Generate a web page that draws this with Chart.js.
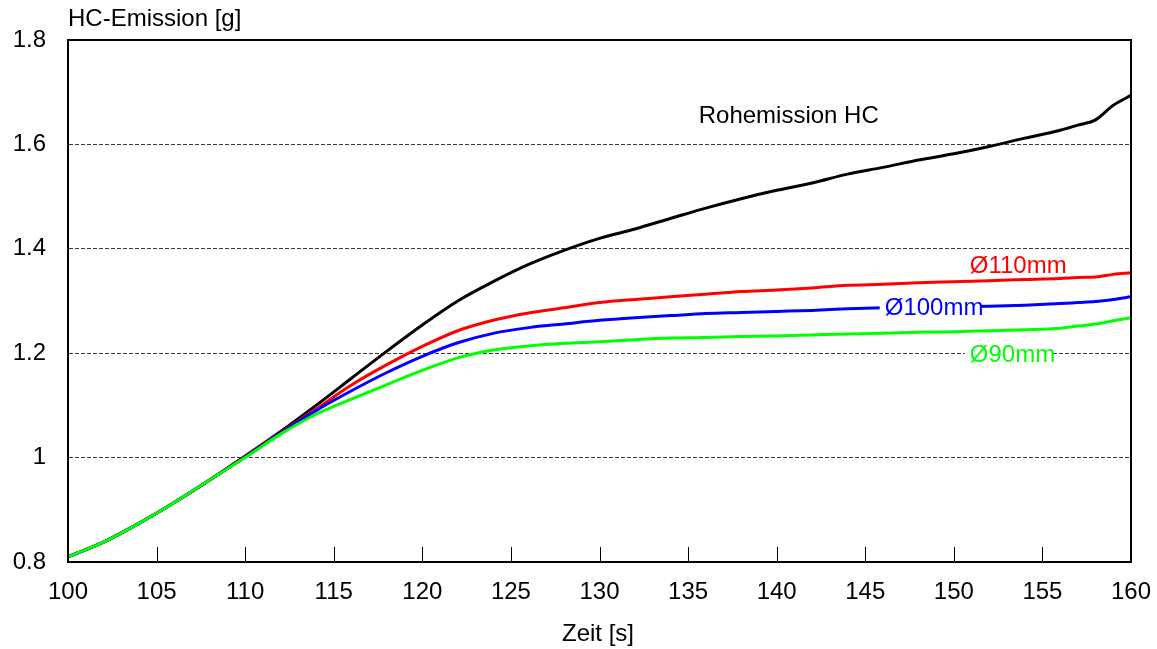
<!DOCTYPE html>
<html>
<head>
<meta charset="utf-8">
<script src="https://cdn.jsdelivr.net/npm/chart.js@4"></script>
<style>
  body { margin: 0; background: #fff; }
  #wrap { width: 1157px; height: 649px; }
</style>
</head>
<body>
<div id="wrap"><canvas id="hcChart" width="1157" height="649"></canvas></div>
<script>
// time axis [s]
const times = [100, 102, 104, 106, 108, 110, 112, 114, 116, 118, 120, 122, 124, 126, 128, 130,
  132, 134, 136, 138, 140, 142, 144, 146, 148, 150, 152, 154, 156, 157, 158, 159, 160];

// cumulated HC emission [g]
const rawHC = [0.810, 0.838, 0.874, 0.914, 0.957, 1.003, 1.050, 1.100, 1.152, 1.204, 1.254, 1.300, 1.337,
  1.370, 1.397, 1.420, 1.438, 1.458, 1.478, 1.496, 1.512, 1.526, 1.543, 1.556, 1.570, 1.582,
  1.596, 1.612, 1.627, 1.637, 1.647, 1.675, 1.694];
const d110 = [0.810, 0.838, 0.874, 0.914, 0.957, 1.002, 1.048, 1.093, 1.139, 1.178, 1.213, 1.243, 1.263,
  1.277, 1.287, 1.297, 1.303, 1.308, 1.313, 1.318, 1.321, 1.325, 1.330, 1.332, 1.335, 1.337,
  1.339, 1.341, 1.343, 1.345, 1.346, 1.351, 1.354];
const d100 = [0.810, 0.838, 0.874, 0.914, 0.957, 1.001, 1.047, 1.090, 1.128, 1.163, 1.194, 1.220, 1.238,
  1.249, 1.256, 1.263, 1.268, 1.272, 1.276, 1.278, 1.280, 1.282, 1.285, 1.287, 1.288, 1.289,
  1.290, 1.292, 1.295, 1.297, 1.299, 1.303, 1.308];
const d90 = [0.810, 0.838, 0.874, 0.914, 0.957, 1.000, 1.045, 1.083, 1.112, 1.140, 1.167, 1.191, 1.206,
  1.214, 1.219, 1.222, 1.226, 1.229, 1.230, 1.232, 1.233, 1.235, 1.237, 1.238, 1.240, 1.241,
  1.243, 1.245, 1.248, 1.252, 1.256, 1.262, 1.268];

const xTicks = [100, 105, 110, 115, 120, 125, 130, 135, 140, 145, 150, 155, 160];
const yTicks = [0.8, 1.0, 1.2, 1.4, 1.6, 1.8];

// curve captions, placed in data coordinates (left edge, vertical middle)
const captions = [
  { text: 'Rohemission HC', x: 135.6, y: 1.654, color: '#000000', box: false },
  { text: 'Ø110mm', x: 150.9, y: 1.367, color: '#ff0000', box: false },
  { text: 'Ø100mm', x: 146.1, y: 1.286, color: '#0000ff', box: true },
  { text: 'Ø90mm', x: 150.9, y: 1.196, color: '#00ff00', box: true }
];

const FONT = '"Liberation Sans", Arial, sans-serif';
const FONT_SIZE = 24;

function toPoints(values) {
  return values.map((v, i) => ({ x: times[i], y: v }));
}

function series(label, values, color) {
  return {
    label: label,
    data: toPoints(values),
    borderColor: color,
    borderWidth: 3,
    pointRadius: 0,
    fill: false,
    tension: 0.4,
    cubicInterpolationMode: 'monotone'
  };
}

// frame, inner tick marks, axis titles and captions
const decor = {
  id: 'decor',
  beforeDatasetsDraw(chart) {
    const { ctx, chartArea: a, scales } = chart;
    ctx.save();
    ctx.strokeStyle = '#000';
    ctx.lineWidth = 1;
    xTicks.forEach(t => {
      const px = Math.round(scales.x.getPixelForValue(t)) + 0.5;
      ctx.beginPath();
      ctx.moveTo(px, a.bottom);
      ctx.lineTo(px, a.bottom - 15);
      ctx.stroke();
    });
    ctx.restore();
  },
  afterDatasetsDraw(chart) {
    const { ctx, chartArea: a, scales } = chart;
    ctx.save();
    ctx.strokeStyle = '#000';
    ctx.lineWidth = 2;
    ctx.strokeRect(a.left, a.top, a.right - a.left, a.bottom - a.top);

    ctx.font = FONT_SIZE + 'px ' + FONT;
    ctx.textBaseline = 'middle';
    captions.forEach(c => {
      const px = scales.x.getPixelForValue(c.x);
      const py = scales.y.getPixelForValue(c.y);
      const w = ctx.measureText(c.text).width;
      if (c.box) {
        ctx.fillStyle = '#fff';
        ctx.fillRect(px - 5, py - 9, w + 2, 18);
      }
      ctx.fillStyle = c.color;
      ctx.textAlign = 'left';
      ctx.fillText(c.text, px, py);
    });

    ctx.fillStyle = '#000';
    ctx.textAlign = 'left';
    ctx.fillText('HC-Emission [g]', a.left, 19);
    ctx.textAlign = 'center';
    ctx.fillText('Zeit [s]', 598, 634);
    ctx.restore();
  }
};

document.addEventListener('DOMContentLoaded', () => {
  const ctx = document.getElementById('hcChart').getContext('2d');
  new Chart(ctx, {
    type: 'line',
    data: {
      datasets: [
        series('Ø90mm', d90, '#00ff00'),
        series('Ø100mm', d100, '#0000ff'),
        series('Ø110mm', d110, '#ff0000'),
        series('Rohemission HC', rawHC, '#000000')
      ]
    },
    options: {
      responsive: false,
      devicePixelRatio: 1,
      animation: false,
      layout: { padding: { top: 40, right: 26, bottom: 0, left: 0 } },
      plugins: {
        legend: { display: false },
        tooltip: { enabled: false }
      },
      scales: {
        x: {
          type: 'linear',
          min: 100,
          max: 160,
          afterBuildTicks: s => { s.ticks = xTicks.map(v => ({ value: v })); },
          afterFit: s => { s.height = 87; s.paddingLeft = 0; s.paddingRight = 0; },
          grid: { display: false, drawTicks: false },
          border: { display: true, color: '#000', width: 2 },
          ticks: {
            padding: 16,
            color: '#000',
            font: { family: FONT, size: FONT_SIZE },
            maxRotation: 0,
            callback: v => String(v)
          }
        },
        y: {
          type: 'linear',
          min: 0.8,
          max: 1.8,
          afterBuildTicks: s => { s.ticks = yTicks.map(v => ({ value: v })); },
          afterFit: s => { s.width = 68; s.paddingTop = 0; s.paddingBottom = 0; },
          grid: {
            drawTicks: false,
            color: c => (c.tick && (c.tick.value > 0.9 && c.tick.value < 1.7)) ? '#3a3a3a' : 'rgba(0,0,0,0)',
            lineWidth: 1
          },
          border: { display: true, color: '#000', width: 2, dash: [4, 2] },
          ticks: {
            padding: 22,
            color: '#000',
            font: { family: FONT, size: FONT_SIZE },
            callback: v => String(Math.round(v * 10) / 10)
          }
        }
      }
    },
    plugins: [decor]
  });
});
</script>
</body>
</html>
